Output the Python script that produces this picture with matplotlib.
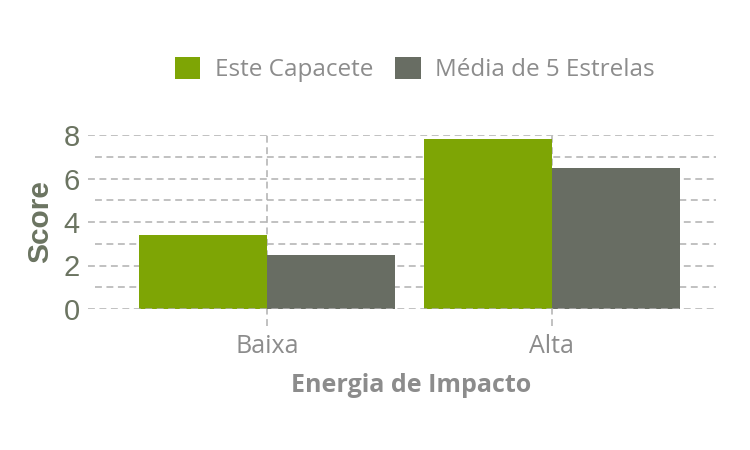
import numpy as np
import matplotlib
matplotlib.use('Agg')
import matplotlib.pyplot as plt
from matplotlib.patches import Patch

categories = ['Baixa', 'Alta']
este_capacete = [3.4, 7.8]
media_5_estrelas = [2.5, 6.5]
series_names = ['Este Capacete', 'Média de 5 Estrelas']

GREEN = '#7ea505'
GRAY = '#686d63'
GRID = '#b0b0b0'
TXT = '#8c8c8c'
YTXT = '#6b7461'

fig = plt.figure(figsize=(7.5, 4.5), dpi=100)
ax = fig.add_axes([88/750, 1 - 309/450, 628/750, 174/450])

x = np.arange(len(categories))
w = 0.45
ax.bar(x - w/2, este_capacete, w, color=GREEN, zorder=3)
ax.bar(x + w/2, media_5_estrelas, w, color=GRAY, zorder=3)

ax.set_xlim(-(267 - 88)/284.7, 1 + (716 - 552)/284.7)
ax.set_ylim(0, 8)

dash = (0, (4.5, 3))
# major gridlines (full width), minor ones start a bit to the right
ax.hlines([2, 4, 6, 8], 0, 1, transform=ax.get_yaxis_transform(),
          colors=GRID, lw=1.1, linestyles=dash, zorder=1)
ax.hlines([1, 3, 5, 7], 7/628, 1, transform=ax.get_yaxis_transform(),
          colors=GRID, lw=1.1, linestyles=dash, zorder=1)
ax.hlines([0], 0, 1, transform=ax.get_yaxis_transform(),
          colors=GRID, lw=1.1, linestyles=dash, zorder=4)
ax.vlines(x, -17/21.75, 8, colors=GRID, lw=1.1, linestyles=dash,
          zorder=2, clip_on=False)

for s in ax.spines.values():
    s.set_visible(False)

ax.set_yticks([0, 2, 4, 6, 8])
ax.set_xticks(x)
ax.set_xticklabels(categories, fontfamily='Open Sans', fontsize=18, color=TXT)
ax.tick_params(axis='x', length=0, pad=18)
ax.tick_params(axis='y', length=0, pad=6, labelsize=21, labelcolor=YTXT)
for t in ax.get_yticklabels():
    t.set_fontfamily('Liberation Sans')

ax.set_xlabel('Energia de Impacto', fontfamily='Open Sans', fontweight='bold',
              fontsize=18, color=TXT, labelpad=10)
ax.xaxis.label.set_x(0.515)
ax.set_ylabel('Score', fontfamily='Liberation Sans', fontweight='bold',
              fontsize=21.5, color=YTXT, labelpad=7)

handles = [Patch(facecolor=GREEN), Patch(facecolor=GRAY)]
fig.legend(handles, series_names, loc='center', bbox_to_anchor=(0.553, 0.846),
           ncol=2, frameon=False, handlelength=1.05, handleheight=1.05,
           handletextpad=0.6, columnspacing=0.9,
           prop={'family': 'Open Sans', 'size': 17.5}, labelcolor=TXT)

fig.savefig('out.png', dpi=100)
